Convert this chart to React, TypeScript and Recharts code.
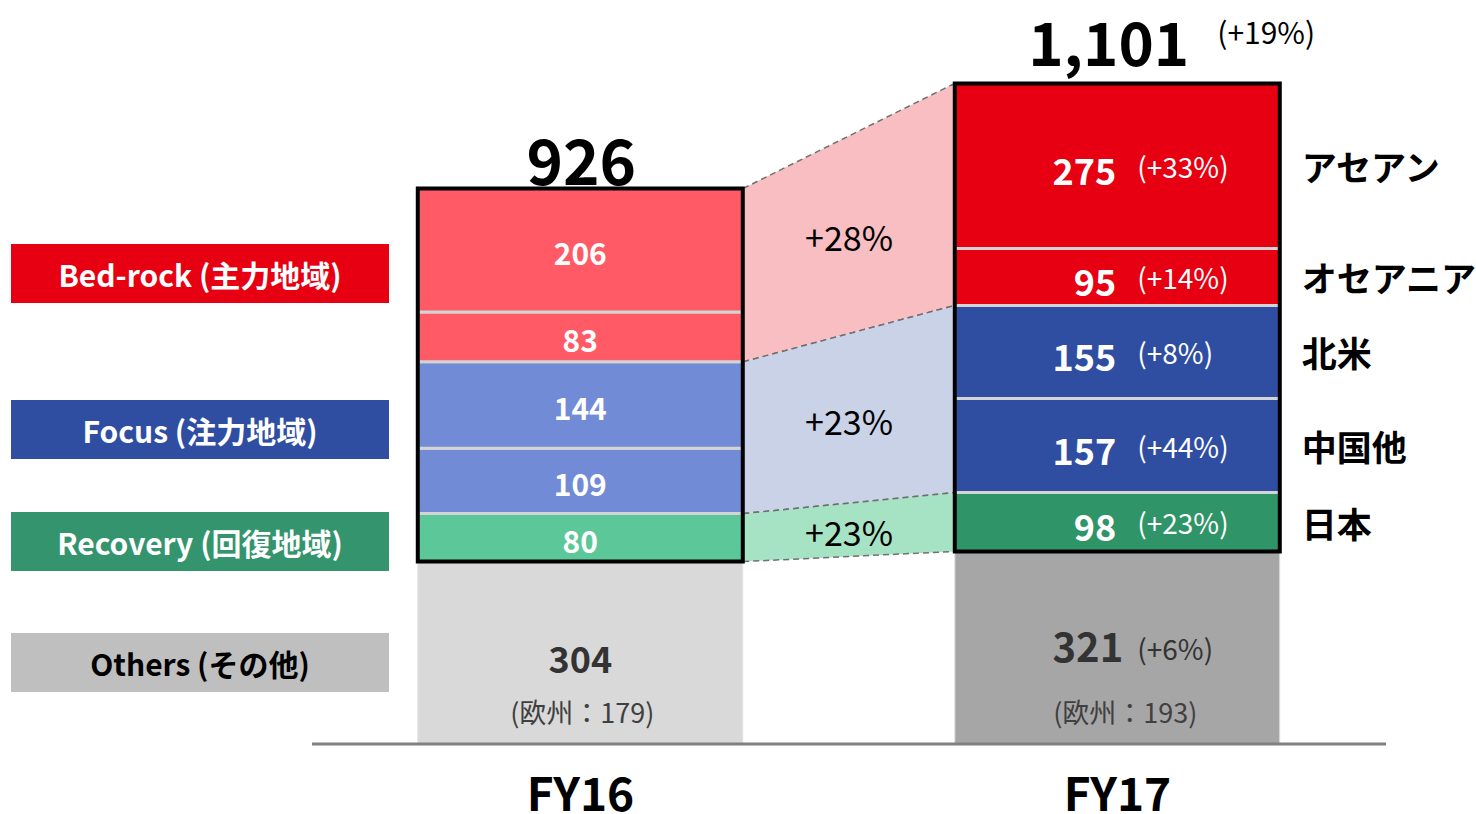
import React from "react";
import {
  ComposedChart,
  Bar,
  Area,
  Line,
  Cell,
  XAxis,
  YAxis,
  LabelList,
} from "recharts";

const categories = ["FY16", "FY17"];
const asean = [206, 275];
const oceania = [83, 95];
const northAmerica = [144, 155];
const chinaOther = [109, 157];
const japan = [80, 98];
const others = [304, 321];
const europe = [179, 193];

const aseanGrowth = "+33%";
const oceaniaGrowth = "+14%";
const northAmericaGrowth = "+8%";
const chinaOtherGrowth = "+44%";
const japanGrowth = "+23%";
const othersGrowth = "+6%";
const totalGrowth = "+19%";

const bedrockGrowth = "+28%";
const focusGrowth = "+23%";
const recoveryGrowth = "+23%";

const regionNames = ["アセアン", "オセアニア", "北米", "中国他", "日本"];

const FONT = "'Noto Sans CJK JP', 'Noto Sans', sans-serif";
const BAR_GAP = 0.197;

const totals = categories.map(
  (_, i) =>
    asean[i] + oceania[i] + northAmerica[i] + chinaOther[i] + japan[i] + others[i]
);

const data = categories.map((name, i) => ({
  name,
  others: others[i],
  japan: japan[i],
  chinaOther: chinaOther[i],
  northAmerica: northAmerica[i],
  oceania: oceania[i],
  asean: asean[i],
  outline: [others[i], totals[i]],
}));

// connector bands between the two bars
function ranges(i: number) {
  const b0 = others[i];
  const b1 = b0 + japan[i];
  const b2 = b1 + chinaOther[i] + northAmerica[i];
  const b3 = b2 + oceania[i] + asean[i];
  return { recovery: [b0, b1], focus: [b1, b2], bedrock: [b2, b3] };
}
const r0 = ranges(0);
const r1 = ranges(1);
const avg = (a: number[], b: number[]) => [(a[0] + b[0]) / 2, (a[1] + b[1]) / 2];
const connectorRows = [
  { x: 1 - BAR_GAP, ...r0 },
  { x: 1, bedrock: avg(r0.bedrock, r1.bedrock), focus: avg(r0.focus, r1.focus), recovery: avg(r0.recovery, r1.recovery) },
  { x: 1 + BAR_GAP, ...r1 },
].map((d) => ({
  ...d,
  bedrockMid: (d.bedrock[0] + d.bedrock[1]) / 2,
  focusMid: (d.focus[0] + d.focus[1]) / 2,
  recoveryMid: (d.recovery[0] + d.recovery[1]) / 2,
}));

function segLabel(values: number[], growth: string, region: string) {
  return (props: any) => {
    const x = Number(props.x);
    const y = Number(props.y);
    const w = Number(props.width);
    const h = Number(props.height);
    const cx = x + w / 2;
    const cy = y + h / 2;
    if (props.index === 0) {
      return (
        <text x={cx} y={cy + 2} textAnchor="middle" dominantBaseline="central" fill="#fff" fontSize={30} fontWeight={700} fontFamily={FONT}>
          {values[0]}
        </text>
      );
    }
    return (
      <g fontFamily={FONT}>
        <text x={cx - 1} y={cy + 3} textAnchor="end" dominantBaseline="central" fill="#fff" fontSize={36} fontWeight={700}>
          {values[1]}
        </text>
        <text x={cx + 20} y={cy} textAnchor="start" dominantBaseline="central" fill="#fff" fontSize={28}>
          ({growth})
        </text>
        <text x={x + w + 22} y={cy} textAnchor="start" dominantBaseline="central" fill="#000" fontSize={35} fontWeight={700}>
          {region}
        </text>
      </g>
    );
  };
}

const othersLabel = (props: any) => {
  const x = Number(props.x);
  const w = Number(props.width);
  const cx = x + w / 2;
  const i = props.index;
  return (
    <g fontFamily={FONT} fill="#333">
      {i === 0 ? (
        <text x={cx} y={657} textAnchor="middle" dominantBaseline="central" fontSize={36} fontWeight={700}>
          {others[0]}
        </text>
      ) : (
        <>
          <text x={cx + 6} y={645} textAnchor="end" dominantBaseline="central" fontSize={40} fontWeight={700}>
            {others[1]}
          </text>
          <text x={cx + 20} y={648} textAnchor="start" dominantBaseline="central" fontSize={28}>
            ({othersGrowth})
          </text>
        </>
      )}
      <text x={cx + (i === 0 ? 2 : 8)} y={711} textAnchor="middle" dominantBaseline="central" fontSize={27} fill="#404040">
        (欧州：{europe[i]})
      </text>
    </g>
  );
};

const totalLabel = (props: any) => {
  const x = Number(props.x);
  const y = Number(props.y);
  const w = Number(props.width);
  const cx = x + w / 2;
  if (props.index === 0) {
    return (
      <text x={cx + 1} y={y - 30} textAnchor="middle" dominantBaseline="central" fontSize={62} fontWeight={700} fontFamily={FONT} fill="#000">
        {totals[0].toLocaleString("en-US")}
      </text>
    );
  }
  return (
    <g fontFamily={FONT}>
      <text x={cx + 72} y={y - 44} textAnchor="end" dominantBaseline="central" fontSize={60} fontWeight={700} fill="#000">
        {totals[1].toLocaleString("en-US")}
      </text>
      <text x={cx + 100} y={y - 52} textAnchor="start" dominantBaseline="central" fontSize={30} fill="#000">
        ({totalGrowth})
      </text>
    </g>
  );
};

const connectorLabel = (text: string) => (props: any) => {
  if (props.index !== 1) return null;
  return (
    <text x={Number(props.x)} y={Number(props.y) + 2} textAnchor="middle" dominantBaseline="central" fontSize={34} fontFamily={FONT} fill="#000">
      {text}
    </text>
  );
};

const CategoryTick = (props: any) => (
  <text x={props.x} y={props.y + 39} textAnchor="middle" dominantBaseline="central" fontSize={46} fontWeight={700} fontFamily={FONT} fill="#000">
    {props.payload.value}
  </text>
);

const legendItems = [
  { label: "Bed-rock", jp: "(主力地域)", top: 244, bg: "#E60012", color: "#fff" },
  { label: "Focus", jp: "(注力地域)", top: 400, bg: "#2F4EA2", color: "#fff" },
  { label: "Recovery", jp: "(回復地域)", top: 512, bg: "#33946D", color: "#fff" },
  { label: "Others", jp: "(その他)", top: 633, bg: "#BFBFBF", color: "#000" },
];

const SEP = "#d4d4d4";

export default function App() {
  return (
    <div style={{ position: "fixed", left: 0, top: 0, width: 1476, height: 814, background: "#fff", fontFamily: FONT }}>
      {legendItems.map((item) => (
        <div
          key={item.label}
          style={{
            position: "absolute",
            left: 11,
            top: item.top,
            width: 378,
            height: 59,
            background: item.bg,
            color: item.color,
            display: "flex",
            alignItems: "center",
            justifyContent: "center",
            fontSize: 30,
            fontWeight: 700,
            whiteSpace: "nowrap",
          }}
        >
          {item.label} {item.jp}
        </div>
      ))}
      <div style={{ position: "absolute", left: 0, top: 0 }}>
        <ComposedChart
          width={1476}
          height={814}
          data={data}
          margin={{ top: 24, right: 90, bottom: 40, left: 312 }}
          barCategoryGap={`${BAR_GAP * 100}%`}
        >
          <XAxis
            xAxisId="cat"
            dataKey="name"
            height={30}
            axisLine={{ stroke: "#808080", strokeWidth: 3 }}
            tickLine={false}
            tick={<CategoryTick />}
          />
          <XAxis xAxisId="outline" dataKey="name" hide />
          <XAxis xAxisId="num" dataKey="x" type="number" domain={[0, 2]} allowDataOverflow hide />
          <YAxis domain={[0, 1200]} hide />

          <Area xAxisId="num" data={connectorRows} dataKey="bedrock" type="linear" fill="#F9BEC2" fillOpacity={1} stroke="#707070" strokeWidth={1.5} strokeDasharray="6 4" isAnimationActive={false} />
          <Area xAxisId="num" data={connectorRows} dataKey="focus" type="linear" fill="#CAD2E7" fillOpacity={1} stroke="#707070" strokeWidth={1.5} strokeDasharray="6 4" isAnimationActive={false} />
          <Area xAxisId="num" data={connectorRows} dataKey="recovery" type="linear" fill="#A6E3C5" fillOpacity={1} stroke="#707070" strokeWidth={1.5} strokeDasharray="6 4" isAnimationActive={false} />

          <Bar xAxisId="cat" dataKey="others" stackId="a" isAnimationActive={false} stroke="#e4e4e4" strokeWidth={1}>
            <Cell fill="#D9D9D9" />
            <Cell fill="#A6A6A6" />
            <LabelList content={othersLabel} />
          </Bar>
          <Bar xAxisId="cat" dataKey="japan" stackId="a" isAnimationActive={false} stroke={SEP} strokeWidth={3}>
            <Cell fill="#5CC899" />
            <Cell fill="#2F9467" />
            <LabelList content={segLabel(japan, japanGrowth, regionNames[4])} />
          </Bar>
          <Bar xAxisId="cat" dataKey="chinaOther" stackId="a" isAnimationActive={false} stroke={SEP} strokeWidth={3}>
            <Cell fill="#728BD6" />
            <Cell fill="#2F4EA2" />
            <LabelList content={segLabel(chinaOther, chinaOtherGrowth, regionNames[3])} />
          </Bar>
          <Bar xAxisId="cat" dataKey="northAmerica" stackId="a" isAnimationActive={false} stroke={SEP} strokeWidth={3}>
            <Cell fill="#728BD6" />
            <Cell fill="#2F4EA2" />
            <LabelList content={segLabel(northAmerica, northAmericaGrowth, regionNames[2])} />
          </Bar>
          <Bar xAxisId="cat" dataKey="oceania" stackId="a" isAnimationActive={false} stroke={SEP} strokeWidth={3}>
            <Cell fill="#FF5A66" />
            <Cell fill="#E60012" />
            <LabelList content={segLabel(oceania, oceaniaGrowth, regionNames[1])} />
          </Bar>
          <Bar xAxisId="cat" dataKey="asean" stackId="a" isAnimationActive={false} stroke={SEP} strokeWidth={3}>
            <Cell fill="#FF5A66" />
            <Cell fill="#E60012" />
            <LabelList content={segLabel(asean, aseanGrowth, regionNames[0])} />
            <LabelList content={totalLabel} />
          </Bar>

          <Bar xAxisId="outline" dataKey="outline" fill="none" stroke="#000" strokeWidth={4} isAnimationActive={false} />

          <Line xAxisId="num" data={connectorRows} dataKey="bedrockMid" stroke="none" dot={false} activeDot={false} isAnimationActive={false}>
            <LabelList content={connectorLabel(bedrockGrowth)} />
          </Line>
          <Line xAxisId="num" data={connectorRows} dataKey="focusMid" stroke="none" dot={false} activeDot={false} isAnimationActive={false}>
            <LabelList content={connectorLabel(focusGrowth)} />
          </Line>
          <Line xAxisId="num" data={connectorRows} dataKey="recoveryMid" stroke="none" dot={false} activeDot={false} isAnimationActive={false}>
            <LabelList content={connectorLabel(recoveryGrowth)} />
          </Line>
        </ComposedChart>
      </div>
    </div>
  );
}
